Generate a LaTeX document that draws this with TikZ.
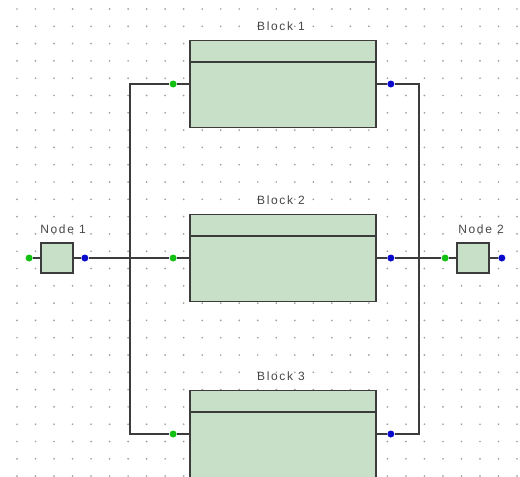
\documentclass[tikz,border=0pt]{standalone}
\usepackage{fontspec}
\newfontfamily\lblfont[LetterSpace=14]{Liberation Sans}
\usetikzlibrary{positioning, backgrounds}

\definecolor{blockfill}{HTML}{C8E0C8}
\definecolor{edgegray}{HTML}{3C3C3C}
\definecolor{portgreen}{HTML}{12C012}
\definecolor{portblue}{HTML}{0A0ACC}

\tikzset{
  blockbox/.style={draw=edgegray, line width=1.3pt, fill=blockfill,
    minimum width=186pt, minimum height=87pt, inner sep=0pt},
  nodebox/.style={draw=edgegray, line width=1.3pt, fill=blockfill,
    minimum width=32pt, minimum height=30pt, inner sep=0pt},
  inport/.style={circle, fill=portgreen, minimum size=7pt, inner sep=0pt},
  outport/.style={circle, fill=portblue, minimum size=7pt, inner sep=0pt},
  wire/.style={draw=edgegray, line width=1.2pt},
  lbl/.style={font=\lblfont\fontsize{12}{14}\selectfont, text=black!72, inner sep=1pt},
}

\begin{document}
\begin{tikzpicture}[x=1pt, y=-1pt]
    \useasboundingbox (0,0) rectangle (520,477);
    \clip (0,0) rectangle (520,477);

    % Lưới điểm nền
    \begin{scope}[on background layer]
        \fill[white] (0,0) rectangle (520,477);
        \foreach \i in {0,...,27}
            \foreach \j in {0,...,27}
                \fill[black!38] (17+18.52*\i, 9+17.3*\j) circle (0.95pt);
    \end{scope}

    % Các khối
    \node[blockbox] (blk1) at (283,84) {};
    \node[blockbox] (blk2) at (283,258) {};
    \node[blockbox] (blk3) at (283,434) {};
    \foreach \b in {blk1, blk2, blk3} {
        \draw[wire, line width=1.3pt] ([yshift=-22pt]\b.north west) -- ([yshift=-22pt]\b.north east);
        \node[inport, left=12.5pt of \b] (\b in) {};
        \node[outport, right=10.5pt of \b] (\b out) {};
    }
    \node[lbl, above=8pt of blk1, xshift=-2pt] (blk1lbl) {Block 1};
    \node[lbl, above=8pt of blk2, xshift=-2pt] (blk2lbl) {Block 2};
    \node[lbl, above=8pt of blk3, xshift=-2pt] (blk3lbl) {Block 3};

    % Hai nút
    \node[nodebox] (n1) at (57,258) {};
    \node[nodebox] (n2) at (473,258) {};
    \node[inport, left=7.5pt of n1] (n1in) {};
    \node[outport, right=7.5pt of n1] (n1out) {};
    \node[inport, left=7.5pt of n2] (n2in) {};
    \node[outport, right=8.5pt of n2] (n2out) {};
    \node[lbl, above=8pt of n1.north, xshift=6pt] (n1lbl) {Node 1};
    \node[lbl, above=8pt of n2.north, xshift=8pt] (n2lbl) {Node 2};

    % Đường nối
    \coordinate (busL) at (130,0);
    \coordinate (busR) at (419,0);
    \begin{scope}[on background layer]
        \foreach \b in {blk1, blk2, blk3} {
            \draw[wire] (\b in) -- (\b.west);
            \draw[wire] (\b out) -- (\b.east);
        }
        \foreach \n in {n1, n2} {
            \draw[wire] (\n in) -- (\n.west);
            \draw[wire] (\n out) -- (\n.east);
        }
        \draw[wire] (n1out) -- (blk2in);
        \draw[wire] (blk1in) -- (blk1in -| busL) -- (blk3in -| busL) -- (blk3in);
        \draw[wire] (blk1out) -- (blk1out -| busR) -- (blk3out -| busR) -- (blk3out);
        \draw[wire] (blk2out) -- (n2in);
    \end{scope}
\end{tikzpicture}
\end{document}
